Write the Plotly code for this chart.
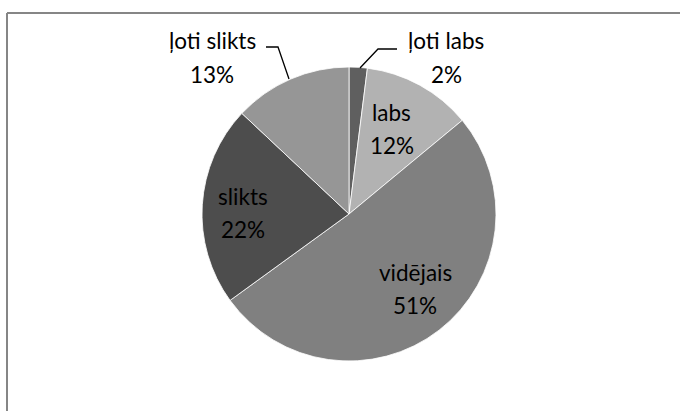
import plotly.graph_objects as go

W, H = 680, 411

labels = ["ļoti labs", "labs", "vidējais", "slikts", "ļoti slikts"]
values = [2, 12, 51, 22, 13]
colors = ["#5f5f5f", "#b2b2b2", "#808080", "#4d4d4d", "#969696"]

# centre of the name line of each label in pixels; the percent sits below it
label_pos = [(446, 41), (392, 112), (415, 272), (243, 196), (212, 41)]
line_gap = 33


def px(x):
    return x / W


def py(y):
    return 1 - y / H


fig = go.Figure()
fig.add_trace(go.Pie(
    labels=labels,
    values=values,
    sort=False,
    direction="clockwise",
    rotation=0,
    marker=dict(colors=colors, line=dict(color="#ffffff", width=0.8)),
    textinfo="none",
    hoverinfo="label+percent",
    domain=dict(x=[px(202), px(496)], y=[py(361), py(67)]),
    showlegend=False,
))

total = sum(values)
font = dict(family="Lato", size=22.5, color="#000000")
for lab, val, (cx, cy) in zip(labels, values, label_pos):
    fig.add_annotation(x=px(cx), y=py(cy), xref="paper", yref="paper",
                       xanchor="center", yanchor="middle",
                       text=lab, showarrow=False, font=font)
    fig.add_annotation(x=px(cx), y=py(cy + line_gap), xref="paper", yref="paper",
                       xanchor="center", yanchor="middle",
                       text=f"{round(100 * val / total)}%", showarrow=False, font=font)

# leader lines for the two outside labels
leaders = [
    [(397, 49), (378, 49), (360, 68)],
    [(266, 47), (278, 47), (289, 79)],
]
for pts in leaders:
    path = "M " + " L ".join(f"{px(x)} {py(y)}" for x, y in pts)
    fig.add_shape(type="path", path=path, xref="paper", yref="paper",
                  line=dict(color="#000000", width=1.3))

# chart frame (only top and left visible in the picture)
fig.add_shape(type="line", xref="paper", yref="paper",
              x0=px(7), y0=py(13), x1=px(W + 5), y1=py(13),
              line=dict(color="#868686", width=2))
fig.add_shape(type="line", xref="paper", yref="paper",
              x0=px(7), y0=py(13), x1=px(7), y1=py(H + 5),
              line=dict(color="#868686", width=2))

fig.update_layout(
    width=W, height=H,
    margin=dict(l=0, r=0, t=0, b=0),
    paper_bgcolor="#ffffff",
    plot_bgcolor="#ffffff",
)

fig.write_html("out.html", config={"displayModeBar": False},
               post_script="document.body.style.margin='0';")
